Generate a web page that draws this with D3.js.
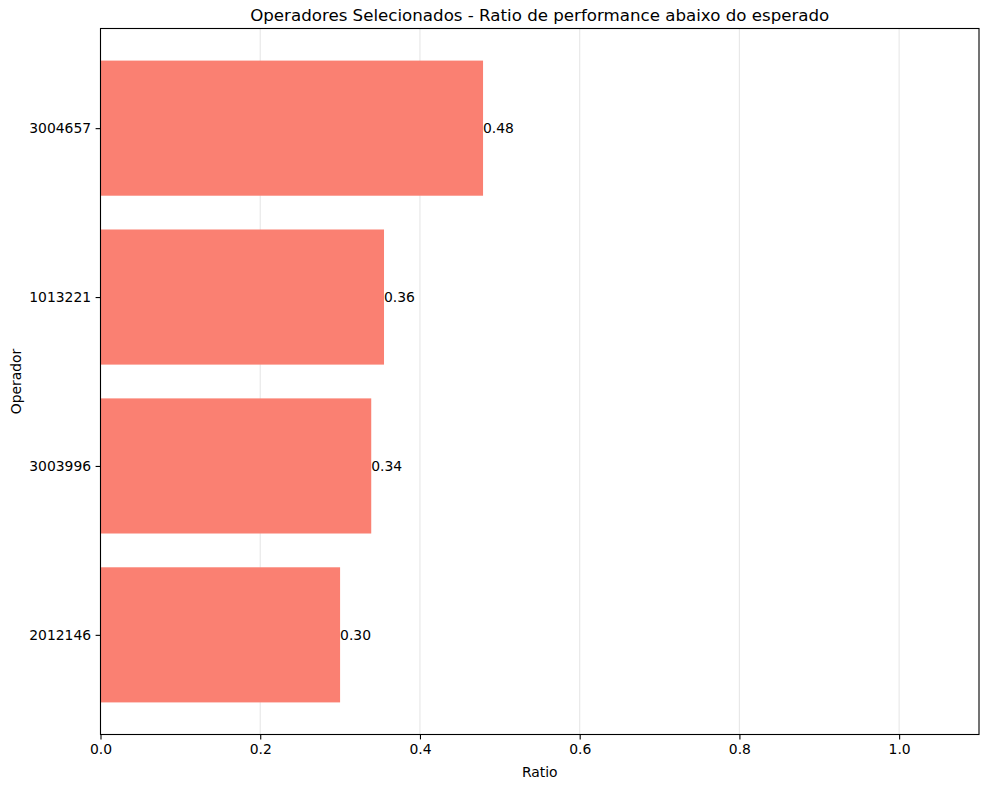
<!DOCTYPE html>
<html>
<head>
<meta charset="utf-8">
<script src="https://cdn.jsdelivr.net/npm/d3@7"></script>
<style>
  html, body { margin: 0; padding: 0; background: #fff; }
  svg { display: block; font-family: "DejaVu Sans", sans-serif; }
</style>
</head>
<body>
<svg id="chart" width="985" height="786"></svg>
<script>
// Data (bottom to top order, as plotted)
const operators = ["2012146", "3003996", "1013221", "3004657"];
const ratios = [0.300, 0.339, 0.355, 0.479];
const ratioLabels = ["0.30", "0.34", "0.36", "0.48"];
const xTicks = [0.0, 0.2, 0.4, 0.6, 0.8, 1.0];
const titleText = "Operadores Selecionados - Ratio de performance abaixo do esperado";
const xLabelText = "Ratio";
const yLabelText = "Operador";

const W = 985, H = 786;
const margin = { left: 100.5, right: 6, top: 28.5, bottom: 51.5 };
const plotL = margin.left, plotR = W - margin.right, plotT = margin.top, plotB = H - margin.bottom;

const svg = d3.select("#chart");

const x = d3.scaleLinear().domain([0, 1.1]).range([plotL, plotR]);
const barH = 0.8;
const yMin = -barH / 2, yMax = operators.length - 1 + barH / 2;
const pad = (yMax - yMin) * 0.05;
const y = d3.scaleLinear().domain([yMin - pad, yMax + pad]).range([plotB, plotT]);

// Grid (below bars)
svg.append("g")
  .selectAll("line")
  .data(xTicks)
  .join("line")
  .attr("x1", d => x(d)).attr("x2", d => x(d))
  .attr("y1", plotT).attr("y2", plotB)
  .attr("stroke", "#b0b0b0")
  .attr("stroke-opacity", 0.3)
  .attr("stroke-width", 1.1);

// Bars
const data = operators.map((op, i) => ({ op, v: ratios[i], label: ratioLabels[i], i }));
svg.append("g")
  .selectAll("rect")
  .data(data)
  .join("rect")
  .attr("x", x(0))
  .attr("y", d => y(d.i + barH / 2))
  .attr("width", d => x(d.v) - x(0))
  .attr("height", d => y(d.i - barH / 2) - y(d.i + barH / 2))
  .attr("fill", "#FA8072");

// Value labels
svg.append("g")
  .selectAll("text")
  .data(data)
  .join("text")
  .attr("x", d => x(d.v))
  .attr("y", d => y(d.i))
  .attr("dy", "0.35em")
  .attr("font-size", "13.9px")
  .attr("fill", "#000")
  .text(d => d.label);

// Axes
const xAxis = d3.axisBottom(x).tickValues(xTicks).tickFormat(d3.format(".1f"))
  .tickSize(4.9).tickPadding(4.5);
const gx = svg.append("g").attr("transform", `translate(0,${plotB})`).call(xAxis);
gx.select(".domain").remove();
gx.selectAll(".tick line").attr("stroke", "#000").attr("stroke-width", 1.1);
gx.selectAll(".tick text").attr("font-size", "13.9px").attr("font-family", "DejaVu Sans, sans-serif").attr("fill", "#000");

const yAxis = d3.axisLeft(y).tickValues(operators.map((_, i) => i))
  .tickFormat(i => operators[i]).tickSize(4.9).tickPadding(4.5);
const gy = svg.append("g").attr("transform", `translate(${plotL},0)`).call(yAxis);
gy.select(".domain").remove();
gy.selectAll(".tick line").attr("stroke", "#000").attr("stroke-width", 1.1);
gy.selectAll(".tick text").attr("font-size", "13.9px").attr("font-family", "DejaVu Sans, sans-serif").attr("fill", "#000");

// Frame
svg.append("rect")
  .attr("x", plotL).attr("y", plotT)
  .attr("width", plotR - plotL).attr("height", plotB - plotT)
  .attr("fill", "none").attr("stroke", "#000").attr("stroke-width", 1.1);

// Title & labels
svg.append("text")
  .attr("x", (plotL + plotR) / 2).attr("y", plotT - 8)
  .attr("text-anchor", "middle")
  .attr("font-size", "16.67px")
  .text(titleText);

svg.append("text")
  .attr("x", (plotL + plotR) / 2).attr("y", 777)
  .attr("text-anchor", "middle")
  .attr("font-size", "13.9px")
  .text(xLabelText);

svg.append("text")
  .attr("transform", `translate(21,${(plotT + plotB) / 2}) rotate(-90)`)
  .attr("text-anchor", "middle")
  .attr("font-size", "13.9px")
  .text(yLabelText);
</script>
</body>
</html>
